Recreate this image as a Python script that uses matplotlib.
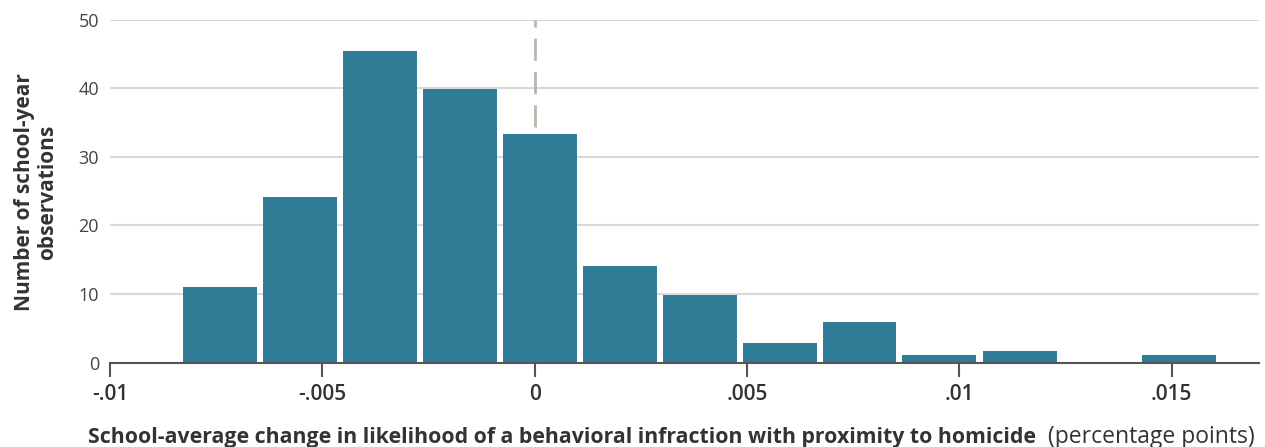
import matplotlib
matplotlib.use("Agg")
import matplotlib.pyplot as plt

plt.rcParams["font.family"] = ["Open Sans", "DejaVu Sans"]

# histogram bins (centres) and counts
bin_centers = [-0.00741, -0.00553, -0.00365, -0.00176, 0.00012, 0.00200, 0.00389,
               0.00577, 0.00765, 0.00953, 0.01142, 0.01330, 0.01518]
counts = [11.0, 24.15, 45.4, 39.9, 33.3, 14.1, 9.85, 2.85, 5.9, 1.1, 1.7, 0.0, 1.1]
bin_width = 0.001882

x_ticks = [-0.01, -0.005, 0, 0.005, 0.01, 0.015]
x_ticklabels = ["-.01", "-.005", "0", ".005", ".01", ".015"]
y_ticks = [0, 10, 20, 30, 40, 50]

BAR = "#2e7c96"
GRID = "#d9d9d9"
TXT = "#333333"

fig = plt.figure(figsize=(12.65, 4.47), dpi=100, facecolor="white")
ax = fig.add_axes([0.087, 0.1886, 0.9083, 0.7674])

ax.bar(bin_centers, counts, width=bin_width * 0.925, color=BAR, zorder=3)
ax.plot([0, 0], [34.3, 50], color="#bdb5ad", linewidth=2, linestyle=(0, (8, 4)), zorder=2)

ax.set_xlim(-0.01, 0.01706)
ax.set_ylim(0, 50)
ax.set_yticks(y_ticks)
ax.set_yticklabels([str(v) for v in y_ticks])
ax.set_xticks(x_ticks)
ax.set_xticklabels(x_ticklabels)
ax.grid(axis="y", color=GRID, linewidth=1.5, zorder=0)

for s in ["top", "right", "left"]:
    ax.spines[s].set_visible(False)
ax.spines["bottom"].set_color("#555555")
ax.spines["bottom"].set_linewidth(1.5)
ax.spines["bottom"].set_zorder(4)

ax.tick_params(axis="y", length=0, pad=8, labelsize=13, labelcolor="#444444")
ax.tick_params(axis="x", length=10, width=1.5, color="#555555", pad=5,
               labelsize=15, labelcolor=TXT)
for lbl in ax.get_xticklabels():
    lbl.set_fontweight("semibold")

fig.text(0.0285, 0.570, "Number of school-year\nobservations", rotation=90,
         ha="center", va="center", ma="center", fontsize=15, fontweight="bold",
         color=TXT, linespacing=1.1)

t1 = fig.text(88 / 1265, 10 / 447, "School-average change in likelihood of a behavioral "
              "infraction with proximity to homicide", fontsize=15.3, fontweight="bold",
              color=TXT, ha="left", va="center")
fig.canvas.draw()
bb = t1.get_window_extent()
fig.text((bb.x1 + 12) / 1265, 10 / 447, "(percentage points)", fontsize=16.5,
         color=TXT, ha="left", va="center")

fig.savefig("out.png", dpi=100, facecolor="white")
